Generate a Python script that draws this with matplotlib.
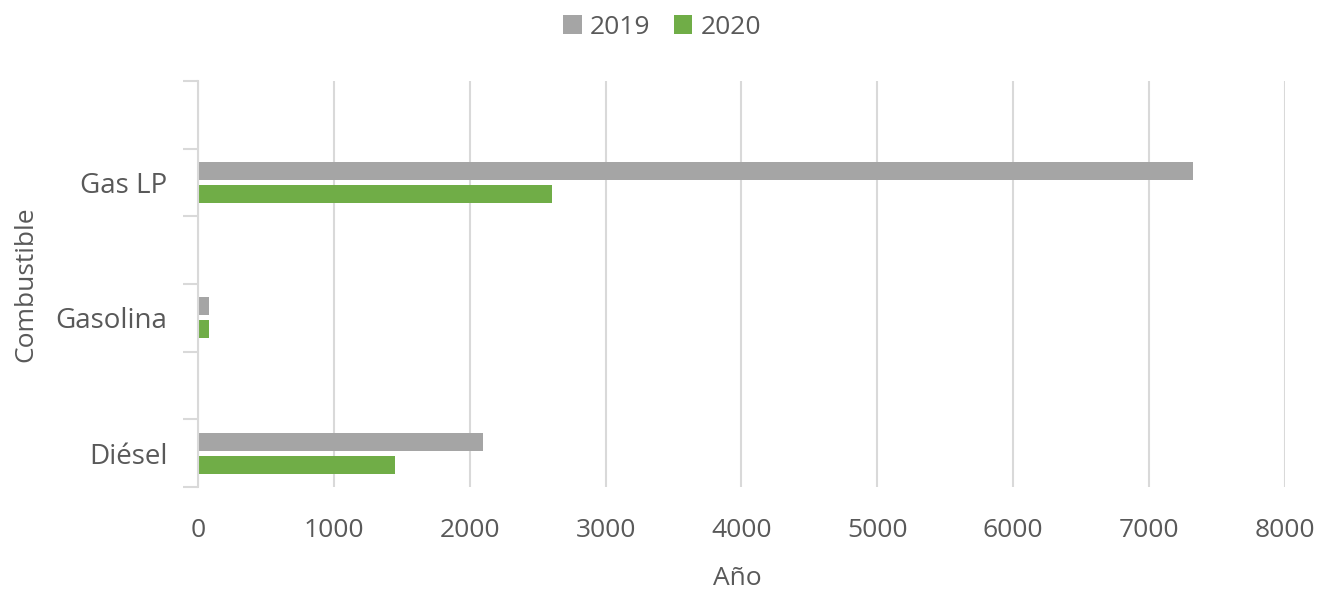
import matplotlib.pyplot as plt
import numpy as np

# datos
categorias = ["Diésel", "", "Gasolina", "", "Gas LP", ""]
valores_2019 = [2095, 0, 85, 0, 7325, 0]
valores_2020 = [1450, 0, 85, 0, 2605, 0]
ticks_x = [0, 1000, 2000, 3000, 4000, 5000, 6000, 7000, 8000]

gris = "#a5a5a5"
verde = "#70ad47"
texto = "#595959"
linea = "#d9d9d9"

plt.rcParams['font.family'] = ['Open Sans', 'DejaVu Sans']

fig = plt.figure(figsize=(13.32, 5.89), dpi=100)
ax = fig.add_axes([0.1486, 0.1732, 0.8161, 0.6893])

y = np.arange(len(categorias))
alto = 0.27
ax.barh(y + 0.17, valores_2019, height=alto, color=gris, label="2019")
ax.barh(y - 0.17, valores_2020, height=alto, color=verde, label="2020")

ax.set_xlim(0, 8000)
ax.set_ylim(-0.5, len(categorias) - 0.5)
ax.set_xticks(ticks_x)
ax.set_xticklabels([str(t) for t in ticks_x], fontsize=19, color=texto)
ax.set_yticks(y)
ax.set_yticklabels(categorias, fontsize=20, color=texto)
ax.tick_params(axis='x', length=0, pad=22)
ax.tick_params(axis='y', which='major', length=0, pad=22)
ax.set_yticks(np.arange(len(categorias) + 1) - 0.5, minor=True)
ax.tick_params(axis='y', which='minor', length=11, color=linea, width=1.5)

ax.grid(axis='x', color=linea, linewidth=1.5)
ax.set_axisbelow(True)
for s in ["top", "right", "bottom"]:
    ax.spines[s].set_visible(False)
ax.spines["left"].set_color(linea)
ax.spines["left"].set_linewidth(1.5)

ax.set_xlabel("Año", fontsize=19, color=texto)
ax.xaxis.set_label_coords(0.496, -0.195)
ax.set_ylabel("Combustible", fontsize=19, color=texto, labelpad=12)

h, l = ax.get_legend_handles_labels()
fig.legend(h, l, loc="upper center", bbox_to_anchor=(0.497, 1.015), ncol=2,
           frameon=False, fontsize=19, labelcolor=texto, handlelength=0.7,
           handleheight=0.7, handletextpad=0.3, columnspacing=0.9)

fig.savefig("out.png", dpi=100)
